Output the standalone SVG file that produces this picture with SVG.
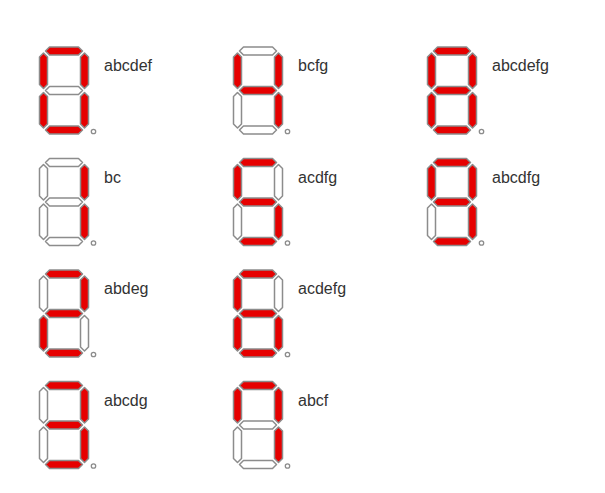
<svg xmlns="http://www.w3.org/2000/svg" xmlns:xlink="http://www.w3.org/1999/xlink" width="605" height="493" viewBox="0 0 605 493">
<style>
.on{fill:#e60000;stroke:#8c8c8c;stroke-width:1.5;stroke-linejoin:round}
.off{fill:#ffffff;stroke:#8c8c8c;stroke-width:1.5;stroke-linejoin:round}
.dp{fill:#ffffff;stroke:#8c8c8c;stroke-width:1.3}
.lbl{font-family:"Liberation Sans",Arial,sans-serif;font-size:16px;fill:#333333}
</style>
<defs>
<polygon id="sa" points="6,4 10,0 39,0 43,4 39,8 10,8"/>
<polygon id="sg" points="6,43.5 10,39.5 39,39.5 43,43.5 39,47.5 10,47.5"/>
<polygon id="sd" points="6,83 10,79 39,79 43,83 39,87 10,87"/>
<polygon id="sf" points="4,6 8,10 8,37.5 4,41.5 0,37.5 0,10"/>
<polygon id="sb" points="45,6 49,10 49,37.5 45,41.5 41,37.5 41,10"/>
<polygon id="se" points="4,45.5 8,49.5 8,77 4,81 0,77 0,49.5"/>
<polygon id="sc" points="45,45.5 49,49.5 49,77 45,81 41,77 41,49.5"/>
</defs>
<rect width="605" height="493" fill="#ffffff"/>
<g id="connectors"/>
<g id="d-abcdef" transform="translate(39.5,47)">
<use href="#sa" class="on"/><use href="#sb" class="on"/><use href="#sc" class="on"/><use href="#sd" class="on"/><use href="#se" class="on"/><use href="#sf" class="on"/><use href="#sg" class="off"/>
<circle cx="54" cy="84.5" r="2.2" class="dp"/><text x="64.5" y="24" class="lbl">abcdef</text></g>
<g id="d-bcfg" transform="translate(233.5,47)">
<use href="#sa" class="off"/><use href="#sb" class="on"/><use href="#sc" class="on"/><use href="#sd" class="off"/><use href="#se" class="off"/><use href="#sf" class="on"/><use href="#sg" class="on"/>
<circle cx="54" cy="84.5" r="2.2" class="dp"/><text x="64.5" y="24" class="lbl">bcfg</text></g>
<g id="d-abcdefg" transform="translate(427.5,47)">
<use href="#sa" class="on"/><use href="#sb" class="on"/><use href="#sc" class="on"/><use href="#sd" class="on"/><use href="#se" class="on"/><use href="#sf" class="on"/><use href="#sg" class="on"/>
<circle cx="54" cy="84.5" r="2.2" class="dp"/><text x="64.5" y="24" class="lbl">abcdefg</text></g>
<g id="d-bc" transform="translate(39.5,158.5)">
<use href="#sa" class="off"/><use href="#sb" class="on"/><use href="#sc" class="on"/><use href="#sd" class="off"/><use href="#se" class="off"/><use href="#sf" class="off"/><use href="#sg" class="off"/>
<circle cx="54" cy="84.5" r="2.2" class="dp"/><text x="64.5" y="24" class="lbl">bc</text></g>
<g id="d-acdfg" transform="translate(233.5,158.5)">
<use href="#sa" class="on"/><use href="#sb" class="off"/><use href="#sc" class="on"/><use href="#sd" class="on"/><use href="#se" class="off"/><use href="#sf" class="on"/><use href="#sg" class="on"/>
<circle cx="54" cy="84.5" r="2.2" class="dp"/><text x="64.5" y="24" class="lbl">acdfg</text></g>
<g id="d-abcdfg" transform="translate(427.5,158.5)">
<use href="#sa" class="on"/><use href="#sb" class="on"/><use href="#sc" class="on"/><use href="#sd" class="on"/><use href="#se" class="off"/><use href="#sf" class="on"/><use href="#sg" class="on"/>
<circle cx="54" cy="84.5" r="2.2" class="dp"/><text x="64.5" y="24" class="lbl">abcdfg</text></g>
<g id="d-abdeg" transform="translate(39.5,270)">
<use href="#sa" class="on"/><use href="#sb" class="on"/><use href="#sc" class="off"/><use href="#sd" class="on"/><use href="#se" class="on"/><use href="#sf" class="off"/><use href="#sg" class="on"/>
<circle cx="54" cy="84.5" r="2.2" class="dp"/><text x="64.5" y="24" class="lbl">abdeg</text></g>
<g id="d-acdefg" transform="translate(233.5,270)">
<use href="#sa" class="on"/><use href="#sb" class="off"/><use href="#sc" class="on"/><use href="#sd" class="on"/><use href="#se" class="on"/><use href="#sf" class="on"/><use href="#sg" class="on"/>
<circle cx="54" cy="84.5" r="2.2" class="dp"/><text x="64.5" y="24" class="lbl">acdefg</text></g>
<g id="d-abcdg" transform="translate(39.5,381.5)">
<use href="#sa" class="on"/><use href="#sb" class="on"/><use href="#sc" class="on"/><use href="#sd" class="on"/><use href="#se" class="off"/><use href="#sf" class="off"/><use href="#sg" class="on"/>
<circle cx="54" cy="84.5" r="2.2" class="dp"/><text x="64.5" y="24" class="lbl">abcdg</text></g>
<g id="d-abcf" transform="translate(233.5,381.5)">
<use href="#sa" class="on"/><use href="#sb" class="on"/><use href="#sc" class="on"/><use href="#sd" class="off"/><use href="#se" class="off"/><use href="#sf" class="on"/><use href="#sg" class="off"/>
<circle cx="54" cy="84.5" r="2.2" class="dp"/><text x="64.5" y="24" class="lbl">abcf</text></g>
</svg>
